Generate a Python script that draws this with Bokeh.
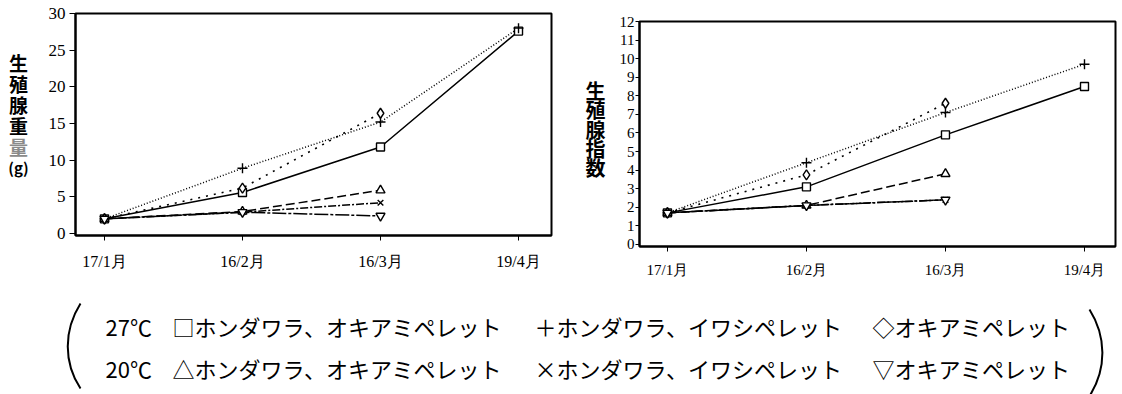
from bokeh.plotting import figure
from bokeh.layouts import column, row
from bokeh.models import Range1d, FixedTicker, ColumnDataSource
from bokeh.core.properties import value
from bokeh.embed import file_html
from bokeh.resources import INLINE

# ---- data -------------------------------------------------------------
months = ["17/1月", "16/2月", "16/3月", "19/4月"]

# gonad weight (g)
wt_27_honda_okiami = [2.0, 5.6, 11.8, 27.6]
wt_27_honda_iwashi = [2.0, 8.9, 15.2, 28.0]
wt_27_okiami = [2.0, 6.2, 16.4]
wt_20_honda_okiami = [2.0, 3.0, 5.9]
wt_20_honda_iwashi = [2.0, 2.9, 4.2]
wt_20_okiami = [2.0, 2.9, 2.4]

# gonad index
gi_27_honda_okiami = [1.7, 3.1, 5.9, 8.5]
gi_27_honda_iwashi = [1.7, 4.4, 7.1, 9.7]
gi_27_okiami = [1.7, 3.75, 7.6]
gi_20_honda_okiami = [1.7, 2.1, 3.8]
gi_20_honda_iwashi = [1.7, 2.1, 2.4]
gi_20_okiami = [1.7, 2.1, 2.4]

weight_ticks = [0, 5, 10, 15, 20, 25, 30]
index_ticks = list(range(0, 13))

weight_title = ["生", "殖", "腺", "重", "量", "(g)"]
index_title = ["生", "殖", "腺", "指", "数"]

legend_rows = [
    ("27℃", "□ホンダワラ、オキアミペレット", "＋ホンダワラ、イワシペレット", "◇オキアミペレット"),
    ("20℃", "△ホンダワラ、オキアミペレット", "×ホンダワラ、イワシペレット", "▽オキアミペレット"),
]

# line / marker style per series (same order in both charts)
styles = [
    dict(marker="square", size=8, dash="solid", lw=1.5),
    dict(marker="cross", size=10, dash="1 2", lw=1.5),
    dict(marker="diamond", size=10, dash="2 6", lw=1.6),
    dict(marker="triangle", size=9, dash="9 4", lw=1.5),
    dict(marker="x", size=8, dash="8 2 2 2", lw=1.5),
    dict(marker="inverted_triangle", size=9, dash="14 2 3 2", lw=1.5),
]

SERIF = "Liberation Serif"
JP = "Noto Sans CJK JP"
H_TOP = 285


def blank(w, h, y_top, bt=0, bb=0):
    """Axis-free strip whose data coordinates equal page pixels."""
    f = figure(width=w, height=h, output_backend="svg", toolbar_location=None,
               x_range=Range1d(0, w),
               y_range=Range1d(y_top + h - bb, y_top + bt),
               min_border=0, min_border_left=0, min_border_right=0,
               min_border_top=bt, min_border_bottom=bb)
    f.axis.visible = False
    f.grid.visible = False
    f.outline_line_color = None
    f.background_fill_color = "white"
    f.border_fill_color = "white"
    return f


def title_strip(w, bt, bb, chars, colors, sizes, x, y0, step):
    # same top/bottom borders as the neighbouring chart so the frames line up
    f = blank(w, H_TOP, 0, bt, bb)
    ys = [y0 + i * step for i in range(len(chars))]
    f.text(x="x", y="y", text="text",
           source=ColumnDataSource(dict(x=[x] * len(chars), y=ys, text=chars,
                                        fc=colors, fs=sizes)),
           text_color="fc", text_font_size="fs", text_font=value(JP),
           text_font_style="bold", text_align="center", text_baseline="middle")
    return f


def make_chart(series, yticks, x_rng, y_rng, w, borders, xtick_font, ytick_font,
               ytick_out, ystandoff, xstandoff):
    bl, br, bt, bb = borders
    p = figure(width=w, height=H_TOP, output_backend="svg", toolbar_location=None,
               x_range=Range1d(*x_rng), y_range=Range1d(*y_rng),
               min_border_left=bl, min_border_right=br,
               min_border_top=bt, min_border_bottom=bb)
    p.grid.visible = False
    p.background_fill_color = "white"
    p.border_fill_color = "white"
    p.outline_line_color = "black"
    p.outline_line_width = 2

    xs_all = list(range(len(months)))
    for vals, st in zip(series, styles):
        xs = xs_all[:len(vals)]
        p.line(xs, vals, line_color="black", line_width=st["lw"],
               line_dash=st["dash"])
    for vals, st in zip(series, styles):
        xs = xs_all[:len(vals)]
        p.scatter(xs, vals, marker=st["marker"], size=st["size"],
                  line_color="black", line_width=1.4, fill_color="white")

    xa = p.xaxis[0]
    xa.ticker = FixedTicker(ticks=xs_all)
    xa.major_label_overrides = {i: m for i, m in enumerate(months)}
    xa.major_tick_in = 0
    xa.major_tick_out = 5
    xa.minor_tick_line_color = None
    xa.axis_line_width = 2
    xa.major_label_standoff = xstandoff
    xa.major_label_text_font = SERIF
    xa.major_label_text_font_size = xtick_font
    xa.major_label_text_color = "black"

    ya = p.yaxis[0]
    ya.ticker = FixedTicker(ticks=yticks)
    ya.major_tick_in = 0
    ya.major_tick_out = ytick_out
    ya.minor_tick_line_color = None
    ya.axis_line_width = 2
    ya.major_label_standoff = ystandoff
    ya.major_label_text_font = SERIF
    ya.major_label_text_font_size = ytick_font
    ya.major_label_text_color = "black"
    return p


L_B = (35, 10, 13, 50)
R_B = (28, 7, 21, 39)

left_title = title_strip(
    40, L_B[2], L_B[3], weight_title,
    ["black", "black", "black", "black", "#8a8a8a", "black"],
    ["19px", "19px", "19px", "19px", "19px", "15px"],
    18, 62, 21)
left = make_chart(
    [wt_27_honda_okiami, wt_27_honda_iwashi, wt_27_okiami,
     wt_20_honda_okiami, wt_20_honda_iwashi, wt_20_okiami],
    weight_ticks, (-0.21, 3.239), (-0.27, 30), 521, L_B,
    "16px", "17px", 6, 4, 12)

right_title = title_strip(
    50, R_B[2], R_B[3], index_title, ["black"] * 5, ["20px"] * 5, 34, 90, 19.3)
right = make_chart(
    [gi_27_honda_okiami, gi_27_honda_iwashi, gi_27_okiami,
     gi_20_honda_okiami, gi_20_honda_iwashi, gi_20_okiami],
    index_ticks, (-0.201, 3.223), (-0.11, 12), 511, R_B,
    "15px", "15px", 4, 1, 10)

# ---- legend strip -----------------------------------------------------
leg = blank(1122, 109, H_TOP)
col_x = [105, 172, 534, 872]
row_y = [325, 367]
lx, ly, lt = [], [], []
for r, items in enumerate(legend_rows):
    for c, t in enumerate(items):
        lx.append(col_x[c])
        ly.append(row_y[r])
        lt.append(t)
leg.text(x="x", y="y", text="text", source=ColumnDataSource(dict(x=lx, y=ly, text=lt)),
         text_font=value(JP), text_font_size="22px",
         text_align="left", text_baseline="middle", text_color="black")

# enclosing round brackets
leg.bezier(x0=[80], y0=[303], x1=[80], y1=[388], cx0=[63], cy0=[330], cx1=[63], cy1=[362],
           line_color="black", line_width=2)
leg.bezier(x0=[1089], y0=[309], x1=[1090], y1=[394], cx0=[1106], cy0=[336], cx1=[1106], cy1=[368],
           line_color="black", line_width=2)

# each chart group sits in its own column so the two groups keep their own frames
left_group = column(row(left_title, left, spacing=0), spacing=0)
right_group = column(row(right_title, right, spacing=0), spacing=0)
layout = column(row(left_group, right_group, spacing=0), leg, spacing=0)
open("out.html", "w").write(file_html(layout, INLINE))
